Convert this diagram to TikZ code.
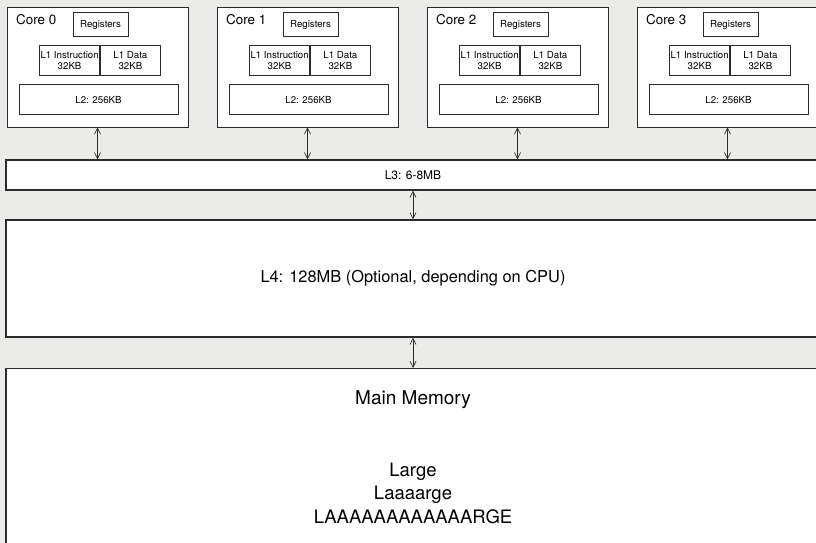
\documentclass[tikz,border=0pt]{standalone}
\usepackage{fontspec}
\setmainfont{TeX Gyre Heros}
\usetikzlibrary{arrows.meta,positioning}
\definecolor{Paper}{HTML}{EBEBEA}
\definecolor{Ink}{HTML}{2B2B2B}

\begin{document}
\begin{tikzpicture}[x=1pt,y=1pt,
  box/.style={draw=Ink,fill=white,line width=0.8pt,inner sep=0pt},
  bigbox/.style={box,line width=1.2pt,minimum width=814pt},
  small/.style={font=\fontsize{9.7}{11.5}\selectfont},
  link/.style={{Straight Barb[length=6pt,width=6pt]}-{Straight Barb[length=6pt,width=6pt]},color=Ink,line width=0.7pt}]
\useasboundingbox (0,0) rectangle (816,-543);
\clip (0,0) rectangle (816,-543);
\fill[Paper] (0,0) rectangle (816,-543);
\begin{scope}
\foreach \i in {0,1,2,3} {
  \node[box,minimum width=181pt,minimum height=120pt] (core\i) at (97.5+210*\i,-67) {};
  \node[anchor=base west,font=\fontsize{13.4}{16}\selectfont] (name\i) at ([xshift=6pt,yshift=-18pt]core\i.north west) {Core \i};
  \node[box,small,minimum width=55pt,minimum height=24pt] (reg\i) at ([xshift=3pt,yshift=-18pt]core\i.north) {Registers};
  \node[box,small,align=center,minimum width=60pt,minimum height=30pt,anchor=east] (l1i\i) at ([xshift=2.5pt,yshift=-54pt]core\i.north) {L1 Instruction\\32KB};
  \node[box,small,align=center,minimum width=60pt,minimum height=30pt,right=0pt of l1i\i] (l1d\i) {L1 Data\\32KB};
  \node[box,small,minimum width=159pt,minimum height=30pt] (l2\i) at ([xshift=1pt,yshift=-93pt]core\i.north) {L2: 256KB};
}
\end{scope}
\node[bigbox,minimum height=30pt,font=\fontsize{12}{14}\selectfont] (l3) at (413,-175) {L3: 6-8MB};
\node[bigbox,minimum height=117pt,font=\fontsize{16.4}{19}\selectfont] (l4) at (413,-278.5) {L4: 128MB (Optional, depending on CPU)};
\node[bigbox,minimum height=200pt,anchor=north] (mem) at (413,-368) {};
\node[font=\fontsize{19}{22}\selectfont] (memname) at (413,-400) {Main Memory};
\node[font=\fontsize{18.5}{23.5}\selectfont,align=center] (memsize) at (413,-493) {Large\\Laaaarge\\LAAAAAAAAAAAARGE};
\foreach \i in {0,...,3} \draw[link] (core\i.south) -- (core\i.south |- l3.north);
\draw[link] (l3.south) -- (l4.north);
\draw[link] (l4.south) -- (mem.north);
\end{tikzpicture}
\end{document}
